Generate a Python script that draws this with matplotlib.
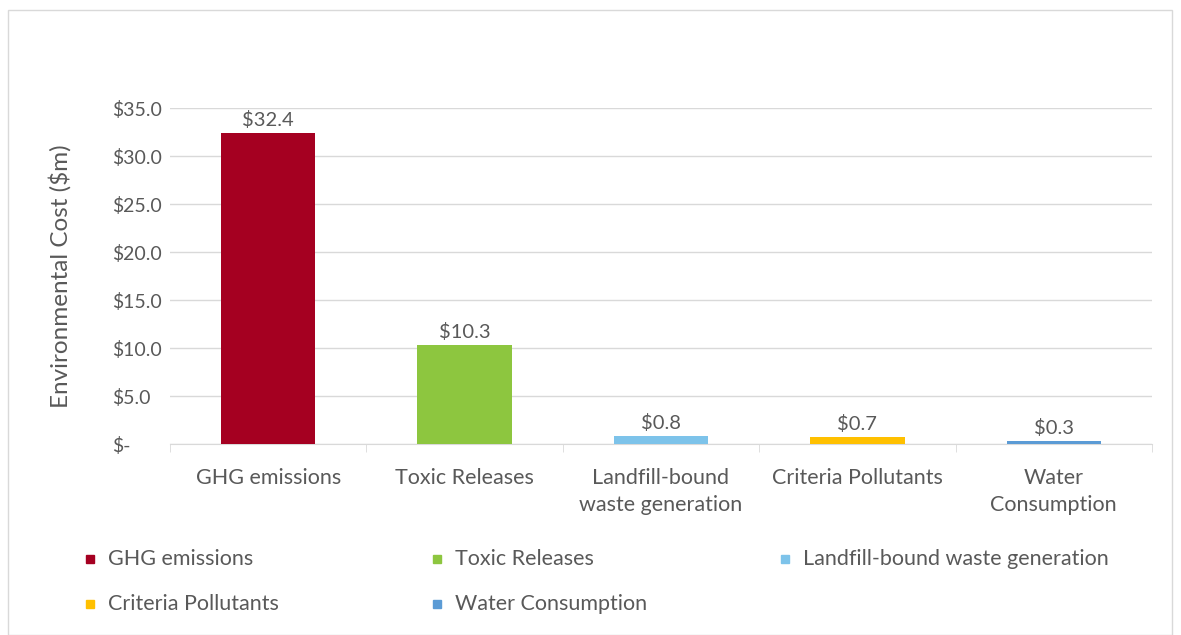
import matplotlib
matplotlib.use("Agg")
import matplotlib.pyplot as plt
from matplotlib.patches import Rectangle

plt.rcParams['font.family'] = ['Lato', 'DejaVu Sans']
plt.rcParams['text.parse_math'] = False

categories = ["GHG emissions", "Toxic Releases", "Landfill-bound\nwaste generation",
              "Criteria Pollutants", "Water\nConsumption"]
legend_names = ["GHG emissions", "Toxic Releases", "Landfill-bound waste generation",
                "Criteria Pollutants", "Water Consumption"]
costs = [32.4, 10.3, 0.8, 0.7, 0.3]
colors = ["#A50021", "#8DC63F", "#7DC3EA", "#FFC000", "#5B9BD5"]
yticks = [0, 5, 10, 15, 20, 25, 30, 35]

W, H = 1181, 635
txt = "#595959"
grid = "#D9D9D9"

fig = plt.figure(figsize=(W / 100, H / 100), dpi=100)
# outer chart border
fig.patches.append(Rectangle((8 / W, 0), 1164 / W, 1 - 10 / H, transform=fig.transFigure,
                             fill=False, edgecolor=grid, lw=1))

ax = fig.add_axes([170 / W, 1 - 444 / H, 982 / W, 336 / H])
x = range(len(costs))
ax.bar(x, costs, width=0.48, color=colors, zorder=3)
for i, v in enumerate(costs):
    ax.annotate("$%.1f" % v, (i, v), xytext=(0, 3), textcoords="offset points",
                ha="center", va="bottom", fontsize=14.5, color=txt)

ax.set_xlim(-0.5, 4.5)
ax.set_ylim(0, 35)
ax.set_yticks(yticks)
ax.set_yticklabels(["$-" if t == 0 else "$%.1f" % t for t in yticks], ha="left")
ax.tick_params(axis="y", length=0, pad=42, labelsize=14, labelcolor=txt)
ax.grid(axis="y", color=grid, lw=1, zorder=0)

ax.set_xticks(list(x))
ax.set_xticklabels(categories, linespacing=1.45)
ax.set_xticks([i + 0.5 for i in range(-1, 5)], minor=True)
ax.tick_params(axis="x", which="major", length=0, pad=17, labelsize=15.5, labelcolor=txt)
ax.tick_params(axis="x", which="minor", length=6, color=grid)

for s in ["top", "right", "left"]:
    ax.spines[s].set_visible(False)
ax.spines["bottom"].set_color(grid)

ax.set_ylabel("Environmental Cost ($m)", fontsize=17.5, color=txt)
ax.yaxis.set_label_coords(-0.1, 0.5)

# legend laid out like the spreadsheet legend: three columns, two rows
col_x = [90, 437, 785]
row_y = [559, 604]
for k, (name, c) in enumerate(zip(legend_names, colors)):
    px = col_x[k % 3]
    py = row_y[k // 3]
    fig.patches.append(Rectangle(((px - 4) / W, 1 - (py + 4) / H), 8 / W, 8 / H,
                                 transform=fig.transFigure, color=c))
    fig.text((px + 18) / W, 1 - py / H, name, fontsize=15.5, color=txt, va="center")

fig.savefig("out.png", dpi=100)
